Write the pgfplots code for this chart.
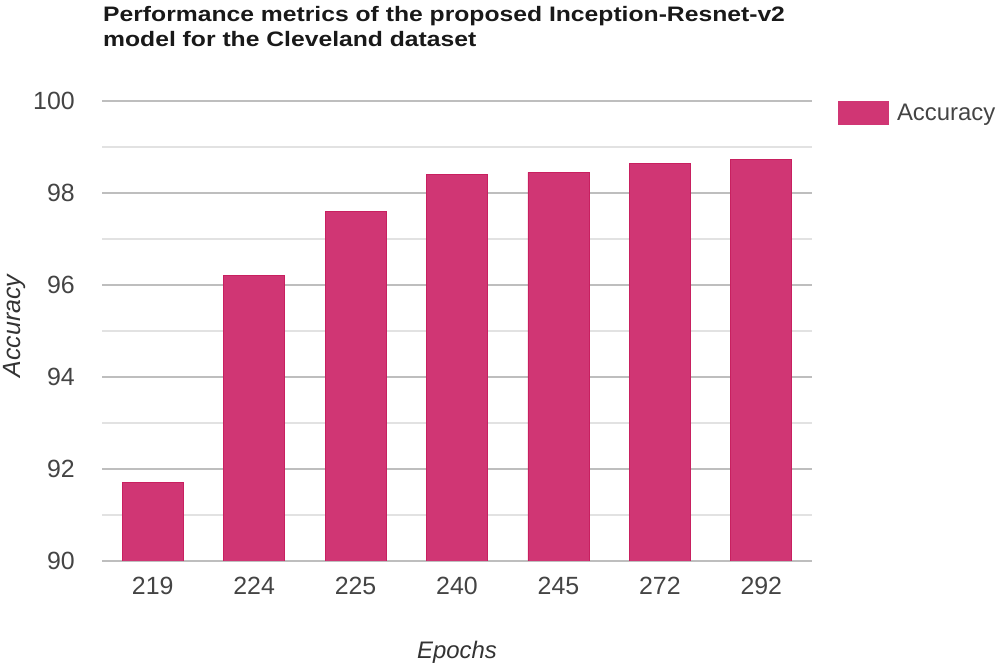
\documentclass[border=0pt]{standalone}
\usepackage{fontspec}
\setmainfont{Liberation Sans}
\newfontfamily\titlefont[FakeStretch=1.18]{Liberation Sans Bold}
\usepackage{pgfplots}
\pgfplotsset{compat=1.18}
\definecolor{barcol}{RGB}{208,54,116}
\definecolor{baredge}{RGB}{200,32,96}
\definecolor{majgrid}{RGB}{190,190,190}
\definecolor{mingrid}{RGB}{226,226,226}
\definecolor{ticktext}{RGB}{68,68,68}
\begin{document}
\begin{tikzpicture}
\path[use as bounding box] (0bp,0bp) rectangle (1005bp,669bp);
\begin{axis}[
  at={(102bp,108bp)}, anchor=south west,
  scale only axis, width=710bp, height=460bp,
  ybar, bar width=61bp,
  xmin=-0.5, xmax=6.5, ymin=90, ymax=100,
  xtick={0,...,6}, xticklabels={219,224,225,240,245,272,292},
  ytick={90,92,...,100}, minor ytick={91,93,...,99},
  ymajorgrids, yminorgrids,
  major grid style={majgrid, line width=1.5bp},
  minor grid style={mingrid, line width=1.3bp},
  axis line style={draw=none},
  major tick length=0pt, minor tick length=0pt,
  tick style={draw=none},
  /pgf/number format/assume math mode=true,
  yticklabel style={anchor=east, inner sep=0pt, xshift=-27bp,
    font=\fontsize{25}{25}\selectfont, text=ticktext},
  xticklabel style={anchor=north, inner sep=0pt, yshift=-16bp,
    font=\fontsize{25}{25}\selectfont, text=ticktext},
  legend style={at={(rel axis cs:1,1)}, anchor=north west, xshift=26bp,
    draw=none, fill=none, inner sep=0pt, column sep=8bp,
    font=\fontsize{24}{24}\selectfont, text=ticktext,
    nodes={inner sep=0pt}},
  legend image code/.code={%
    \fill[barcol] (0bp,-11.5bp) rectangle (50bp,11.5bp);},
]
\addplot[fill=barcol, draw=baredge, line width=0.8bp] coordinates {
  (0,91.7) (1,96.2) (2,97.6) (3,98.4) (4,98.45) (5,98.65) (6,98.72)
};
\addlegendentry{Accuracy}
\end{axis}
\node[anchor=north west, inner sep=0pt, align=left, text=black!90,
  font=\titlefont\fontsize{21}{25}\selectfont] at (103bp,663bp)
  {Performance metrics of the proposed Inception-Resnet-v2\\model for the Cleveland dataset};
\node[rotate=90, inner sep=0pt, text=black!80,
  font=\itshape\fontsize{25}{25}\selectfont] at (15bp,343bp) {Accuracy};
\node[inner sep=0pt, text=black!80,
  font=\itshape\fontsize{24}{24}\selectfont] at (457bp,17bp) {Epochs};
\end{tikzpicture}
\end{document}
